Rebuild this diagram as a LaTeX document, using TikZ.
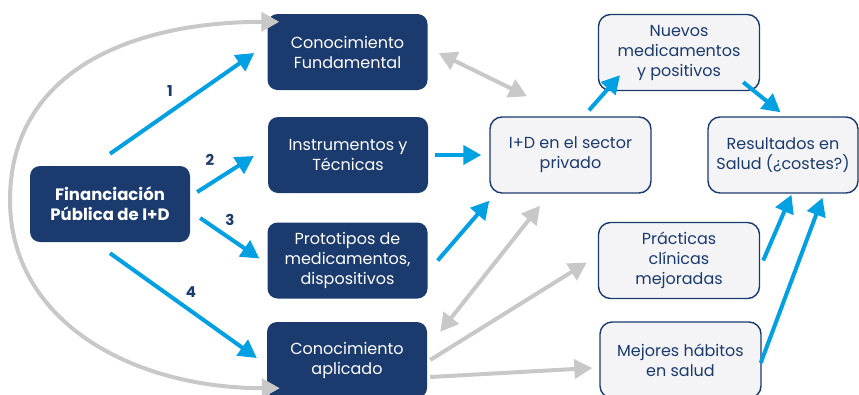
\documentclass[tikz,border=0pt]{standalone}
\usepackage{fontspec}
\setmainfont{Poppins}
\usetikzlibrary{arrows.meta}
\definecolor{navy}{RGB}{27,58,110}
\definecolor{cblue}{RGB}{0,160,227}
\definecolor{cgray}{RGB}{200,200,200}
\definecolor{light}{RGB}{244,244,246}
\begin{document}
\begin{tikzpicture}[x=1pt,y=-1pt,
  darkbox/.style={fill=navy, draw=none, rounded corners=10pt, text=white, align=center,
    minimum width=160pt, minimum height=76pt, inner sep=0pt,
    font=\fontsize{16}{20}\selectfont},
  lightbox/.style={fill=light, draw=navy, line width=1.4pt, rounded corners=12pt, text=navy,
    align=center, minimum width=161pt, minimum height=76pt, inner sep=0pt,
    font=\fontsize{16}{20}\selectfont},
  tipa/.tip={Triangle[length=18pt,width=19pt]},
  barrow/.style={draw=cblue, line width=4pt, -tipa},
  garrow/.style={draw=cgray, line width=4pt, -tipa},
  gdarrow/.style={draw=cgray, line width=4pt, tipa-tipa},
  num/.style={text=navy, font=\bfseries\fontsize{15}{15}\selectfont}]
\useasboundingbox (0,0) rectangle (859,394);
\clip (0,0) rectangle (859,394);
% nodes
\node[darkbox, font=\bfseries\fontsize{16.5}{20}\selectfont] (fin) at (110,204) {Financiación\\Pública de I+D};
\node[darkbox] (cf) at (347.5,52) {Conocimiento\\Fundamental};
\node[darkbox] (it) at (348,155) {Instrumentos y\\Técnicas};
\node[darkbox] (pr) at (347.5,260.5) {Prototipos de\\medicamentos,\\dispositivos};
\node[darkbox] (ca) at (347,360) {Conocimiento\\aplicado};
\node[lightbox] (id) at (570.5,155) {I+D en el sector\\privado};
\node[lightbox] (nm) at (679,52.5) {Nuevos\\medicamentos\\y positivos};
\node[lightbox, minimum width=150pt] (res) at (783,155) {Resultados en\\Salud (¿costes?)};
\node[lightbox] (pc) at (679,260.5) {Prácticas\\clínicas\\mejoradas};
\node[lightbox] (mh) at (680.5,360) {Mejores hábitos\\en salud};
% numbered arrows
\draw[barrow] ([shift={(0,-12)}]fin.north) -- ([shift={(-13,1)}]cf.west);
\draw[barrow] ([shift={(7,-12)}]fin.east) -- ([shift={(-14,1)}]it.west);
\draw[barrow] ([shift={(10,14)}]fin.east) -- ([shift={(-8,-2)}]pr.west);
\draw[barrow] ([shift={(0,11)}]fin.south) -- ([shift={(-10,-2)}]ca.west);
\node[num] (n1) at (170,91) {1};
\node[num] (n2) at (210,160) {2};
\node[num] (n3) at (230,220) {3};
\node[num] (n4) at (191,292) {4};
% gray curve
\draw[gdarrow] ([shift={(13,-10)}]ca.south west) .. controls (130,388) and (10,320) .. (10,200)
  .. controls (10,75) and (125,22) .. ([shift={(12,8)}]cf.north west);
% other connectors
\draw[gdarrow] ([shift={(11,1)}]cf.east) -- ([shift={(-43.5,-20)}]id.north);
\draw[barrow] ([shift={(7,0)}]it.east) -- ([shift={(-8,0)}]id.west);
\draw[barrow] ([shift={(10,0)}]pr.east) -- ([shift={(0,7)}]id.south west);
\draw[gdarrow] ([shift={(-30.5,12)}]id.south) -- ([shift={(13,10)}]ca.north east);
\draw[garrow] ([shift={(3,0)}]ca.east) -- ([shift={(-11,2)}]pc.west);
\draw[garrow] ([shift={(3,17)}]ca.east) -- ([shift={(-7,8)}]mh.west);
\draw[barrow] ([shift={(18.5,-6)}]id.north) -- ([shift={(-59,-16)}]nm.south);
\draw[barrow] ([shift={(-17,-9)}]nm.south east) -- ([shift={(-2.5,-4)}]res.north);
\draw[barrow] ([shift={(3,0)}]pc.east) -- ([shift={(8.5,1)}]res.south);
\draw[barrow] ([shift={(-1,3)}]mh.east) -- ([shift={(39.5,4)}]res.south);
\end{tikzpicture}
\end{document}
